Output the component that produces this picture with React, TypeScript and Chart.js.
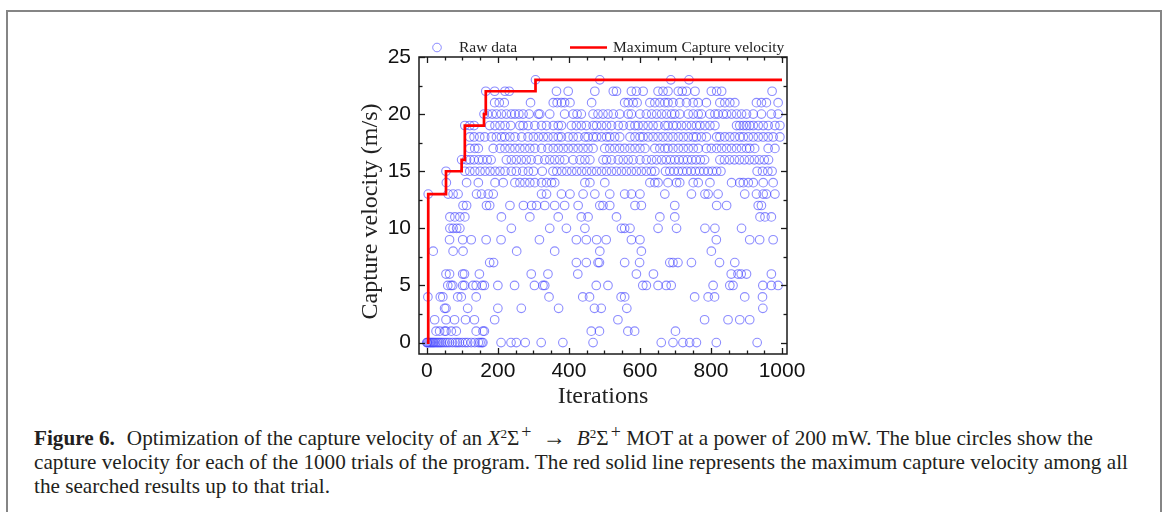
import React, { useEffect, useRef } from 'react';
import { Chart, registerables } from 'chart.js';
Chart.register(...registerables);

// Raw data: iteration numbers at which each capture velocity (m/s) was found
const level0 = [0, 1, 3, 6, 9, 12, 15, 18, 21, 25, 29, 33, 37, 41, 46, 52, 58, 64, 72, 80, 86, 92, 100, 108, 115, 125, 135, 145, 150, 155, 158, 209, 237, 252, 277, 322, 383, 468, 660, 693, 721, 740, 759, 815, 930];
const level1 = [26, 36, 50, 54, 69, 83, 139, 158, 162, 463, 486, 566, 585, 700];
const level2 = [22, 54, 78, 109, 134, 191, 538, 782, 848, 881, 909];
const level3 = [50, 54, 115, 200, 266, 371, 472, 491, 563, 946];
const level4 = [3, 38, 45, 87, 97, 139, 344, 439, 458, 547, 557, 754, 792, 810, 895, 945];
const level5 = [59, 68, 73, 101, 106, 130, 139, 156, 162, 200, 247, 303, 327, 332, 477, 510, 608, 618, 651, 674, 688, 806, 853, 862, 946, 970, 989];
const level6 = [54, 64, 101, 106, 148, 294, 341, 425, 590, 638, 857, 876, 885, 900, 970];
const level7 = [177, 188, 421, 449, 482, 486, 557, 599, 684, 693, 707, 745, 824, 867];
const level8 = [18, 74, 102, 253, 360, 487, 604, 801];
const level9 = [64, 101, 125, 167, 209, 317, 421, 449, 478, 505, 576, 600, 815, 909, 937, 975];
const level10 = [65, 74, 84, 93, 238, 346, 393, 445, 548, 557, 572, 651, 703, 783, 811, 886];
const level11 = [65, 79, 93, 107, 210, 290, 370, 435, 454, 534, 656, 698, 938, 952, 970];
const level12 = [102, 112, 168, 177, 234, 272, 295, 309, 332, 360, 388, 426, 487, 496, 515, 586, 604, 698, 816, 844, 933, 942];
const level13 = [4, 60, 74, 88, 140, 154, 173, 187, 323, 337, 379, 403, 440, 473, 515, 557, 576, 600, 670, 745, 783, 792, 820, 895, 928, 947, 956, 980];
const level14 = [55, 112, 145, 192, 215, 248, 262, 276, 290, 304, 323, 337, 351, 360, 445, 459, 501, 628, 642, 651, 679, 703, 712, 750, 764, 797, 858, 881, 891, 905, 919, 947, 975];
const level15 = [54, 107, 121, 135, 150, 164, 178, 192, 206, 220, 238, 252, 270, 286, 300, 325, 355, 366, 380, 394, 408, 422, 436, 450, 464, 478, 492, 506, 520, 534, 548, 562, 576, 590, 604, 618, 632, 642, 672, 684, 696, 708, 720, 732, 744, 756, 768, 780, 792, 804, 816, 828, 930, 945, 960, 972];
const level16 = [98, 112, 122, 133, 146, 157, 170, 181, 224, 238, 252, 266, 280, 294, 313, 332, 346, 360, 374, 388, 412, 431, 445, 459, 496, 506, 520, 539, 553, 567, 581, 600, 618, 633, 647, 661, 674, 686, 698, 710, 722, 734, 746, 758, 770, 782, 825, 838, 852, 866, 880, 894, 908, 922, 936, 950, 962];
const level17 = [121, 135, 145, 187, 206, 220, 234, 248, 262, 276, 290, 304, 323, 341, 356, 370, 384, 398, 412, 426, 440, 454, 468, 501, 515, 529, 543, 557, 572, 586, 600, 614, 642, 656, 670, 679, 693, 708, 722, 736, 750, 764, 787, 801, 816, 830, 844, 858, 872, 886, 900, 909, 923, 961, 980];
const level18 = [121, 133, 149, 163, 182, 196, 210, 220, 234, 248, 267, 285, 300, 314, 328, 341, 356, 370, 379, 398, 412, 426, 445, 454, 468, 478, 492, 506, 515, 529, 543, 572, 586, 600, 609, 623, 637, 651, 665, 679, 693, 708, 722, 736, 750, 759, 773, 787, 816, 825, 839, 853, 867, 881, 891, 905, 919, 933, 947, 961, 975, 994];
const level19 = [107, 121, 133, 177, 192, 206, 220, 236, 262, 271, 285, 304, 323, 337, 356, 370, 379, 407, 421, 435, 449, 468, 478, 492, 506, 520, 539, 553, 572, 586, 595, 609, 623, 637, 651, 670, 679, 693, 703, 717, 731, 745, 759, 769, 783, 797, 811, 872, 881, 891, 900, 909, 919, 933, 947, 961, 980, 994];
const level20 = [161, 171, 184, 196, 210, 224, 238, 248, 259, 271, 288, 314, 318, 346, 388, 412, 423, 435, 468, 482, 496, 510, 525, 543, 567, 576, 600, 618, 633, 647, 661, 675, 689, 698, 712, 736, 750, 764, 773, 797, 811, 820, 834, 844, 858, 872, 886, 900, 919, 942, 970, 989];
const level21 = [191, 204, 218, 292, 356, 367, 379, 388, 403, 464, 557, 567, 581, 592, 628, 642, 656, 670, 679, 693, 712, 731, 750, 764, 787, 825, 839, 853, 867, 928, 942, 956, 989];
const level22 = [166, 191, 220, 232, 365, 398, 473, 525, 534, 576, 590, 609, 651, 665, 679, 708, 719, 731, 755, 801, 816, 830, 972];
const level23 = [306, 487, 687, 738];

const velocityLevels = [level0, level1, level2, level3, level4, level5, level6, level7, level8, level9, level10, level11, level12, level13, level14, level15, level16, level17, level18, level19, level20, level21, level22, level23];

// Maximum capture velocity (running best) breakpoints
const maxIter = [0, 4, 54, 98, 107, 161, 166, 306, 1000];
const maxVel = [0, 13, 15, 16, 19, 20, 22, 23, 23];

const xTickLabels = [0, 200, 400, 600, 800, 1000];
const yTickLabels = [0, 5, 10, 15, 20, 25];

const rawLabel = 'Raw data';
const maxLabel = 'Maximum Capture velocity';
const yTitle = 'Capture velocity (m/s)';

const CIRCLE_COLOR = 'rgba(70, 70, 255, 0.62)';

const framePlugin = {
  id: 'frameTicksLegend',
  afterDraw(chart: any) {
    const { ctx, chartArea } = chart;
    const { left, right, top, bottom } = chartArea;
    const xs = chart.scales.x;
    const ys = chart.scales.y;
    ctx.save();
    ctx.strokeStyle = '#1a1a1a';
    ctx.lineWidth = 1.5;
    ctx.strokeRect(left, top, right - left, bottom - top);
    ctx.lineWidth = 1.3;
    const line = (x1: number, y1: number, x2: number, y2: number) => {
      ctx.beginPath();
      ctx.moveTo(x1, y1);
      ctx.lineTo(x2, y2);
      ctx.stroke();
    };
    const xStep = xTickLabels[1] - xTickLabels[0];
    const xMinor = xStep / 4;
    for (let v = xTickLabels[0]; v <= xTickLabels[xTickLabels.length - 1] + 1e-6; v += xMinor) {
      const p = Math.round(xs.getPixelForValue(v)) + 0.5;
      const major = Math.abs(v / xStep - Math.round(v / xStep)) < 1e-6;
      const len = major ? 6 : 3.5;
      line(p, bottom, p, bottom - len);
      line(p, top, p, top + len);
    }
    const yStep = yTickLabels[1] - yTickLabels[0];
    const yMinor = yStep / 2;
    for (let v = yTickLabels[0]; v <= yTickLabels[yTickLabels.length - 1] + 1e-6; v += yMinor) {
      const p = Math.round(ys.getPixelForValue(v)) + 0.5;
      const major = Math.abs(v / yStep - Math.round(v / yStep)) < 1e-6;
      const len = major ? 6 : 3.5;
      line(left, p, left + len, p);
      line(right, p, right - len, p);
    }
    // y-axis title
    ctx.save();
    ctx.translate(left - 48, (top + bottom) / 2 + 6);
    ctx.rotate(-Math.PI / 2);
    ctx.fillStyle = '#222';
    ctx.font = '24px "Liberation Serif", serif';
    ctx.textAlign = 'center';
    ctx.textBaseline = 'middle';
    ctx.fillText(yTitle, 0, 0);
    ctx.restore();
    // legend
    const ly = top - 9.5;
    ctx.strokeStyle = CIRCLE_COLOR;
    ctx.lineWidth = 1;
    ctx.beginPath();
    ctx.arc(left + 18, ly, 4.3, 0, Math.PI * 2);
    ctx.stroke();
    ctx.fillStyle = '#222';
    ctx.font = '15.5px "Liberation Serif", serif';
    ctx.textBaseline = 'middle';
    ctx.textAlign = 'left';
    ctx.fillText(rawLabel, left + 40, ly);
    ctx.strokeStyle = '#ff0000';
    ctx.lineWidth = 2.5;
    line(left + 151, ly, left + 188, ly);
    ctx.fillText(maxLabel, left + 194, ly);
    ctx.restore();
  },
};

export default function App() {
  const canvasRef = useRef<HTMLCanvasElement | null>(null);

  useEffect(() => {
    const canvas = canvasRef.current;
    if (!canvas) return;
    const rawPoints = velocityLevels.flatMap((iters, v) => iters.map((it) => ({ x: it, y: v })));
    const maxPoints = maxIter.map((it, i) => ({ x: it, y: maxVel[i] }));

    const chart = new Chart(canvas, {
      type: 'scatter',
      data: {
        datasets: [
          {
            type: 'line',
            label: maxLabel,
            data: maxPoints,
            borderColor: '#ff0000',
            borderWidth: 2.7,
            pointRadius: 0,
            stepped: 'before',
            fill: false,
            order: 0,
          } as any,
          {
            type: 'scatter',
            label: rawLabel,
            data: rawPoints,
            pointStyle: 'circle',
            pointRadius: 4.3,
            borderWidth: 1.1,
            borderColor: CIRCLE_COLOR,
            backgroundColor: 'rgba(0,0,0,0)',
            order: 1,
          },
        ],
      },
      options: {
        responsive: false,
        animation: false,
        layout: { padding: { left: 0, right: 33, top: 37, bottom: 0 } },
        plugins: {
          legend: { display: false },
          tooltip: { enabled: false },
        },
        scales: {
          x: {
            type: 'linear',
            min: -22,
            max: 1014,
            grid: { display: false, drawTicks: false },
            border: { display: false },
            afterBuildTicks: (scale: any) => {
              scale.ticks = xTickLabels.map((v) => ({ value: v }));
            },
            afterFit: (scale: any) => {
              scale.height = 61;
            },
            ticks: {
              padding: 5,
              color: '#111',
              font: { family: '"Liberation Sans", Arial, sans-serif', size: 21 },
              callback: (v: any) => String(v),
              maxRotation: 0,
            },
            title: {
              display: true,
              text: 'Iterations',
              color: '#222',
              font: { family: '"Liberation Serif", serif', size: 24 },
              padding: { top: 0, bottom: 4 },
            },
          },
          y: {
            type: 'linear',
            min: -1,
            max: 25,
            grid: { display: false, drawTicks: false },
            border: { display: false },
            afterBuildTicks: (scale: any) => {
              scale.ticks = yTickLabels.map((v) => ({ value: v }));
            },
            afterFit: (scale: any) => {
              scale.width = 89;
            },
            ticks: {
              padding: 8,
              color: '#111',
              font: { family: '"Liberation Sans", Arial, sans-serif', size: 21 },
              callback: (v: any) => String(v),
            },
            title: { display: false },
          },
        },
      },
      plugins: [framePlugin],
    });
    return () => chart.destroy();
  }, []);

  const sup: React.CSSProperties = { fontSize: '0.62em', verticalAlign: '0.55em', lineHeight: 0 };
  const plus: React.CSSProperties = { fontSize: '0.85em', verticalAlign: '0.4em', lineHeight: 0, marginLeft: 2 };

  return (
    <div style={{ position: 'absolute', left: 0, top: 0, width: 1165, height: 512, overflow: 'hidden', background: '#fff' }}>
      <div
        style={{
          position: 'absolute',
          left: 6,
          top: 10,
          width: 1152,
          height: 620,
          borderLeft: '2px solid #858585',
          borderTop: '2px solid #858585',
          borderRight: '2px solid #858585',
        }}
      />
      <div style={{ position: 'absolute', left: 330, top: 20, width: 490, height: 395 }}>
        <canvas ref={canvasRef} width={490} height={395} style={{ display: 'block', width: 490, height: 395 }} />
      </div>
      <div
        style={{
          position: 'absolute',
          left: 34,
          top: 425,
          fontFamily: '"Liberation Serif", "Times New Roman", serif',
          fontSize: 21.2,
          lineHeight: '24px',
          whiteSpace: 'nowrap',
          color: '#231f20',
        }}
      >
        <span style={{ fontWeight: 'bold' }}>Figure 6.</span>
        <span style={{ display: 'inline-block', width: 12 }} />
        Optimization of the capture velocity of an <i>X</i>
        <span style={sup}>2</span>Σ<span style={plus}>+</span>
        <span style={{ margin: '0 11px', fontSize: '1.1em' }}>→</span>
        <i>B</i>
        <span style={sup}>2</span>Σ<span style={plus}>+</span> MOT at a power of 200 mW. The blue circles show the
        <br />
        capture velocity for each of the 1000 trials of the program. The red solid line represents the maximum capture velocity among all
        <br />
        the searched results up to that trial.
      </div>
    </div>
  );
}
